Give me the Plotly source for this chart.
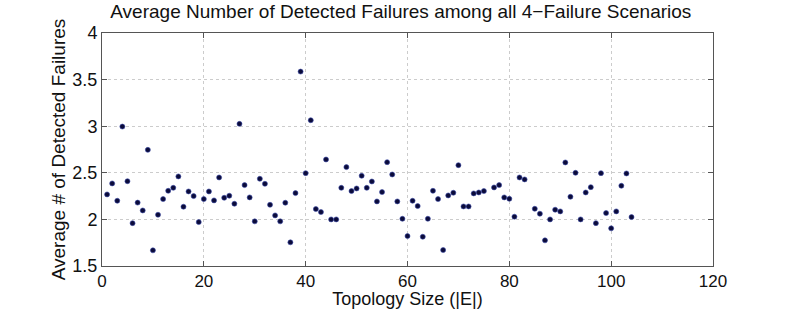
import plotly.graph_objects as go

x_vals = [1, 2, 3, 4, 5, 6, 7, 8, 9, 10, 11, 12, 13, 14, 15, 16, 17, 18, 19, 20,
          21, 22, 23, 24, 25, 26, 27, 28, 29, 30, 31, 32, 33, 34, 35, 36, 37, 38, 39, 40,
          41, 42, 43, 44, 45, 46, 47, 48, 49, 50, 51, 52, 53, 54, 55, 56, 57, 58, 59, 60,
          61, 62, 63, 64, 65, 66, 67, 68, 69, 70, 71, 72, 73, 74, 75, 77, 78, 79, 80,
          81, 82, 83, 85, 86, 87, 88, 89, 90, 91, 92, 93, 94, 95, 96, 97, 98, 99, 100,
          101, 102, 103, 104]
y_vals = [2.268, 2.386, 2.200, 2.996, 2.410, 1.960, 2.180, 2.096, 2.746, 1.668,
          2.050, 2.218, 2.307, 2.339, 2.461, 2.136, 2.300, 2.250, 1.971, 2.218,
          2.300, 2.204, 2.450, 2.232, 2.254, 2.168, 3.025, 2.368, 2.236, 1.979,
          2.436, 2.382, 2.157, 2.043, 1.979, 2.179, 1.754, 2.282, 3.586, 2.496,
          3.064, 2.111, 2.079, 2.643, 2.000, 2.000, 2.339, 2.561, 2.304, 2.332,
          2.468, 2.339, 2.407, 2.193, 2.293, 2.614, 2.482, 2.193, 2.007, 1.821,
          2.200, 2.143, 1.814, 2.007, 2.307, 2.218, 1.671, 2.257, 2.286, 2.582,
          2.139, 2.139, 2.279, 2.289, 2.304, 2.343, 2.368, 2.236, 2.221,
          2.029, 2.450, 2.429, 2.114, 2.061, 1.775, 2.000, 2.104, 2.086, 2.611,
          2.243, 2.500, 2.000, 2.289, 2.346, 1.960, 2.496, 2.068, 1.904,
          2.086, 2.361, 2.493, 2.025]

title_text = "Average Number of Detected Failures among all 4\u2212Failure Scenarios"
x_title = "Topology Size (|E|)"
y_title = "Average # of Detected Failures"

FONT = "Liberation Sans, Arial, Helvetica, sans-serif"

fig = go.Figure()
fig.add_trace(go.Scatter(
    x=x_vals, y=y_vals, mode="markers",
    marker=dict(size=5, color="#0b0b3a", line=dict(width=0.6, color="#3a4aa8")),
    showlegend=False,
))

axis_common = dict(
    showline=True, linecolor="#555555", linewidth=1, mirror="ticks",
    ticks="inside", ticklen=5, tickcolor="#555555",
    showgrid=True, gridcolor="#cccccc", griddash="dot", gridwidth=1,
    zeroline=False, automargin=False,
)

fig.update_layout(
    width=789, height=309,
    margin=dict(l=102, r=76, t=33, b=43),
    paper_bgcolor="white", plot_bgcolor="white",
    font=dict(family=FONT, color="#111111"),
    title=dict(text=title_text, x=0.508, xanchor="center", y=0.962, yanchor="middle",
               font=dict(family=FONT, size=19, color="#111111")),
    xaxis=dict(range=[0, 120], dtick=20, tick0=0,
               tickfont=dict(family=FONT, size=17, color="#111111"),
               title=dict(text=x_title, standoff=4, font=dict(family=FONT, size=18)),
               **axis_common),
    yaxis=dict(range=[1.5, 4], dtick=0.5, tick0=1.5,
               tickfont=dict(family=FONT, size=18, color="#111111"),
               title=dict(text=y_title, standoff=1, font=dict(family=FONT, size=19)),
               **axis_common),
)

fig.write_html("out.html",
               config={"displayModeBar": False},
               post_script="document.body.style.margin='0';document.body.style.overflow='hidden';")
